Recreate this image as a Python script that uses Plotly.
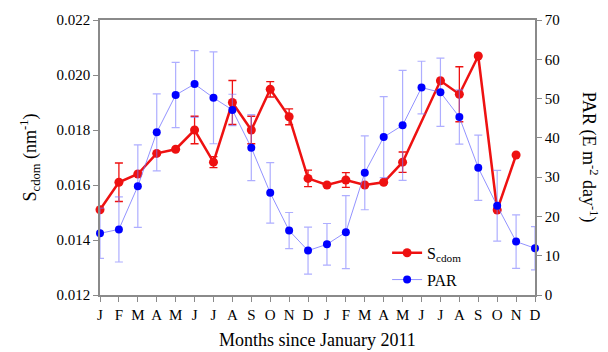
import plotly.graph_objects as go

months = ["J","F","M","A","M","J","J","A","S","O","N","D",
          "J","F","M","A","M","J","J","A","S","O","N","D"]
month_idx = list(range(24))

scdom = [0.0151, 0.0161, 0.0164, 0.01715, 0.0173, 0.0180, 0.01683, 0.0190, 0.0180, 0.01948, 0.01848, 0.01624,
         0.0160, 0.01618, 0.0160, 0.0161, 0.01683, None, 0.01979, 0.01930, 0.02069, 0.01509, 0.01709, None]
scdom_err = [0, 0.0007, 0, 0, 0, 0.0005, 0.0002, 0.0008, 0.0005, 0.00028, 0.00029, 0.0003,
             0, 0.00027, 0, 0, 0.00037, 0, 0, 0.001, 0, 0, 0, 0]

par = [15.7, 16.7, 27.7, 41.4, 50.9, 53.7, 50.2, 47.1, 37.5, 26.0, 16.4, 11.3,
       12.9, 16.0, 31.1, 40.2, 43.2, 52.8, 51.6, 45.3, 32.4, 22.7, 13.6, 11.9]
par_err = [6.4, 8.3, 10.5, 9.8, 8.3, 8.5, 11.7, 4.0, 8.4, 7.7, 4.6, 6.0,
           5.3, 9.3, 9.4, 10.3, 14.0, 6.7, 8.7, 6.9, 8.3, 9.0, 6.8, 5.5]

left_ticks = [0.012, 0.014, 0.016, 0.018, 0.020, 0.022]
right_ticks = [0, 10, 20, 30, 40, 50, 60, 70]

FONT = "Liberation Serif"
AX = "#8a8a8a"
TXT = "#000"

fig = go.Figure()
fig.add_trace(go.Scatter(
    x=month_idx, y=scdom, name="S<sub>cdom</sub>", mode="lines+markers",
    connectgaps=True, cliponaxis=False, legendgroup="a",
    line=dict(color="#ee1111", width=2.5),
    marker=dict(color="#ee1111", size=9),
    error_y=dict(type="data", array=scdom_err, visible=True, color="#ee1111", thickness=1.3, width=4),
    yaxis="y"))
fig.add_trace(go.Scatter(
    x=month_idx, y=par, name="PAR", mode="lines+markers", cliponaxis=False, legendgroup="b",
    line=dict(color="rgba(110,110,255,0.75)", width=1),
    marker=dict(color="#0000ff", size=8),
    error_y=dict(type="data", array=par_err, visible=True, color="rgba(120,120,255,0.6)", thickness=1.2, width=4),
    yaxis="y2"))

fig.update_layout(
    width=608, height=352,
    margin=dict(l=92, r=81, t=12, b=65),
    paper_bgcolor="white", plot_bgcolor="white",
    font=dict(family=FONT, size=14, color=TXT),
    showlegend=True,
    legend=dict(x=0.66, y=0.215, xanchor="left", yanchor="top", bgcolor="rgba(0,0,0,0)",
                font=dict(family=FONT, size=16, color=TXT), tracegroupgap=3, traceorder="grouped"),
    xaxis=dict(range=[0, 23], tickvals=month_idx, ticktext=months, showgrid=False, zeroline=False,
               showline=True, linecolor=AX, linewidth=1.5, mirror=True, ticks="outside", automargin=False,
               ticklen=5, tickcolor=AX, tickfont=dict(family=FONT, size=15, color=TXT)),
    yaxis=dict(range=[0.012, 0.022], tickvals=left_ticks, tickformat=".3f", showgrid=False, zeroline=False,
               showline=True, linecolor=AX, linewidth=1.5, ticks="outside", ticklen=5, tickcolor=AX,
               automargin=False, tickfont=dict(family=FONT, size=15, color=TXT)),
    yaxis2=dict(range=[0, 70], tickvals=right_ticks, overlaying="y", side="right", showgrid=False,
                zeroline=False, showline=True, linecolor=AX, linewidth=1.5, ticks="outside", ticklen=5,
                automargin=False, tickcolor=AX, tickfont=dict(family=FONT, size=15, color=TXT)),
)
fig.add_annotation(text="S<sub>cdom</sub> (nm<sup>-1</sup>)", textangle=-90, xref="paper", yref="paper",
                   x=-0.161, y=0.5, xanchor="center", yanchor="middle", showarrow=False,
                   font=dict(family=FONT, size=18, color=TXT))
fig.add_annotation(text="PAR (E m<sup>-2</sup> day<sup>-1</sup>)", textangle=90, xref="paper", yref="paper",
                   x=1.126, y=0.5, xanchor="center", yanchor="middle", showarrow=False,
                   font=dict(family=FONT, size=18, color=TXT))
fig.add_annotation(text="Months since January 2011", xref="paper", yref="paper",
                   x=0.5, y=-0.164, xanchor="center", yanchor="middle", showarrow=False,
                   font=dict(family=FONT, size=18, color=TXT))

fig.write_html("out.html")
